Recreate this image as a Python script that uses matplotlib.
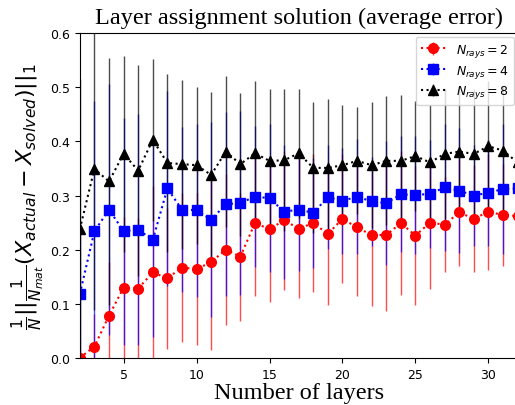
import numpy as np
import matplotlib
matplotlib.use("Agg")
import matplotlib.pyplot as plt

layers = np.arange(2, 33)

# mean error per number of layers
err_r2 = [0.0, 0.021, 0.078, 0.130, 0.128, 0.158, 0.147, 0.167, 0.164, 0.177,
          0.200, 0.187, 0.249, 0.238, 0.254, 0.239, 0.249, 0.229, 0.257, 0.241,
          0.227, 0.227, 0.249, 0.226, 0.250, 0.246, 0.269, 0.257, 0.270, 0.264, 0.262]
err_r4 = [0.118, 0.234, 0.274, 0.234, 0.237, 0.218, 0.313, 0.274, 0.273, 0.255,
          0.284, 0.286, 0.298, 0.295, 0.270, 0.274, 0.268, 0.297, 0.290, 0.298,
          0.289, 0.286, 0.302, 0.301, 0.303, 0.315, 0.309, 0.300, 0.305, 0.312, 0.313]
err_r8 = [0.238, 0.349, 0.326, 0.377, 0.346, 0.403, 0.360, 0.358, 0.356, 0.338,
          0.381, 0.358, 0.378, 0.364, 0.365, 0.378, 0.351, 0.351, 0.356, 0.364,
          0.356, 0.364, 0.364, 0.373, 0.361, 0.377, 0.381, 0.377, 0.391, 0.383, 0.361]

# standard deviations
std_r2 = [0.0, 0.06, 0.10, 0.13, 0.13, 0.16, 0.13, 0.138, 0.14, 0.163,
          0.139, 0.118, 0.134, 0.135, 0.128, 0.129, 0.128, 0.132, 0.119, 0.126,
          0.131, 0.140, 0.133, 0.129, 0.122, 0.088, 0.100, 0.099, 0.107, 0.095, 0.10]
std_r4 = [0.12, 0.24, 0.232, 0.21, 0.213, 0.179, 0.18, 0.153, 0.16, 0.18,
          0.17, 0.17, 0.13, 0.137, 0.124, 0.113, 0.101, 0.096, 0.098, 0.106,
          0.082, 0.114, 0.107, 0.109, 0.10, 0.117, 0.115, 0.093, 0.098, 0.12, 0.11]
std_r8 = [0.278, 0.26, 0.228, 0.181, 0.195, 0.150, 0.164, 0.156, 0.145, 0.154,
          0.14, 0.132, 0.133, 0.133, 0.131, 0.119, 0.121, 0.127, 0.111, 0.099,
          0.116, 0.119, 0.122, 0.102, 0.106, 0.12, 0.12, 0.12, 0.12, 0.12, 0.12]

series = [
    (err_r2, std_r2, "red", "o", r"$N_{rays} = 2$"),
    (err_r4, std_r4, "blue", "s", r"$N_{rays} = 4$"),
    (err_r8, std_r8, "black", "^", r"$N_{rays} = 8$"),
]

fig = plt.figure(figsize=(5.15, 4.06), dpi=100)
ax = fig.add_axes([0.155, 0.116, 0.85, 0.80])

for mean, std, color, marker, label in series:
    eb = ax.errorbar(layers, mean, yerr=std, color=color, marker=marker,
                     linestyle=":", markersize=7, elinewidth=1.0, label=label)
    eb[2][0].set_alpha(0.7)

ax.set_xlim(2, 32)
ax.set_ylim(0, 0.6)
ax.set_xticks([5, 10, 15, 20, 25, 30])
ax.tick_params(labelsize=9)

ax.set_title("Layer assignment solution (average error)",
             fontfamily="Liberation Serif", fontsize=17.5, pad=7)
ax.set_xlabel("Number of layers", fontfamily="Liberation Serif", fontsize=17.5, labelpad=1)
ax.set_ylabel(r"$\frac{1}{N}||\frac{1}{N_{mat}}(X_{actual} - X_{solved})||_1$",
              fontsize=16, labelpad=2)

ax.legend(loc="upper right", fontsize=9, labelspacing=0.3, borderaxespad=0.3)

fig.savefig("out.png", dpi=100)
